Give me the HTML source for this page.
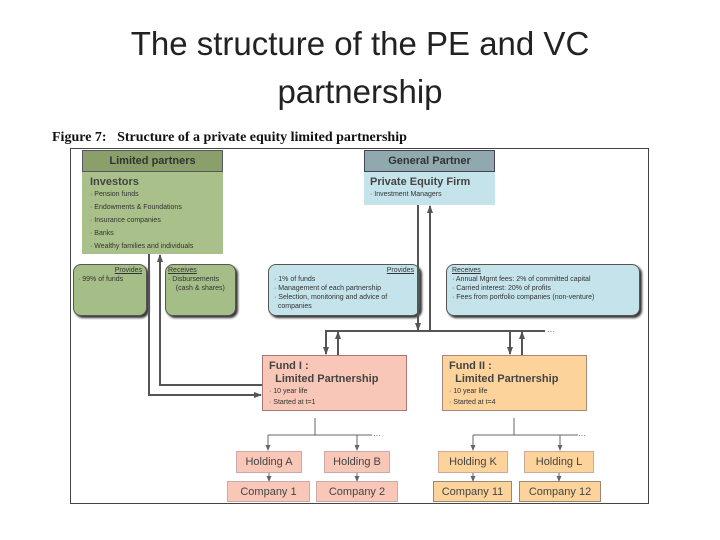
<!DOCTYPE html>
<html><head><style>
body{margin:0;width:720px;height:540px;background:#fff;position:relative;overflow:hidden;font-family:"Liberation Sans",Arial,sans-serif}
.a{position:absolute;box-sizing:border-box}
.t{left:0;width:720px;text-align:center;font-size:33px;color:#222;line-height:48px}
.s{font-size:7px;color:#333;line-height:13px}
.r{border-radius:8px;box-shadow:2px 2px 2px #333;border:1px solid #555}
.h{font-size:11px;color:#444;display:flex;align-items:center;justify-content:center;border:1px solid #333}
</style></head><body>
<div class="a t" style="top:20px">The structure of the PE and VC</div>
<div class="a t" style="top:68px">partnership</div>
<div class="a" style="left:52px;top:130px;font:bold 14px 'Liberation Serif',serif;color:#111">Figure 7:&nbsp;&nbsp; Structure of a private equity limited partnership</div>
<div class="a" style="left:70px;top:148px;width:579px;height:356px;border:1px solid #444"></div>

<div class="a" style="left:82px;top:150px;width:141px;height:22px;background:#8a9f6a;border:1px solid #556;font-weight:bold;font-size:11px;color:#333;text-align:center;line-height:20px">Limited partners</div>
<div class="a" style="left:82px;top:172px;width:141px;height:82px;background:#a9c08a;padding:4px 8px">
<div style="font-weight:bold;font-size:11px;color:#444">Investors</div>
<div class="s">· Pension funds<br>· Endowments &amp; Foundations<br>· Insurance companies<br>· Banks<br>· Wealthy families and individuals</div></div>

<div class="a" style="left:364px;top:150px;width:131px;height:22px;background:#8fa9ae;border:1px solid #445;font-weight:bold;font-size:11px;color:#333;text-align:center;line-height:20px">General Partner</div>
<div class="a" style="left:364px;top:172px;width:131px;height:33px;background:#c5e3ea;padding:4px 6px">
<div style="font-weight:bold;font-size:11px;color:#444">Private Equity Firm</div>
<div class="s">· Investment Managers</div></div>

<div class="a r" style="left:73px;top:264px;width:74px;height:52px;background:#a5bd86;padding:1px 4px"><div class="s" style="text-align:right;text-decoration:underline;line-height:9px">Provides</div><div class="s" style="line-height:9px">· 99% of funds</div></div>
<div class="a r" style="left:165px;top:264px;width:71px;height:52px;background:#a5bd86;padding:1px 2px"><div class="s" style="text-decoration:underline;line-height:9px">Receives</div><div class="s" style="line-height:9px">· Disbursements<br>&nbsp;&nbsp;&nbsp;&nbsp;(cash &amp; shares)</div></div>
<div class="a r" style="left:268px;top:264px;width:152px;height:52px;background:#c5e3ea;padding:1px 5px"><div class="s" style="text-align:right;text-decoration:underline;line-height:9px">Provides</div><div class="s" style="line-height:9px">· 1% of funds<br>· Management of each partnership<br>· Selection, monitoring and advice of<br>&nbsp;&nbsp;companies</div></div>
<div class="a r" style="left:446px;top:264px;width:194px;height:52px;background:#c5e3ea;padding:1px 5px"><div class="s" style="text-decoration:underline;line-height:9px">Receives</div><div class="s" style="line-height:9px">· Annual Mgmt fees: 2% of committed capital<br>· Carried interest: 20% of profits<br>· Fees from portfolio companies (non-venture)</div></div>

<div class="a" style="left:262px;top:355px;width:145px;height:56px;background:#f8c7b8;border:1px solid #a77;padding:4px 6px"><div style="font-weight:bold;font-size:11px;color:#444;line-height:13px">Fund I :<br>&nbsp;&nbsp;Limited Partnership</div><div class="s" style="line-height:11px">· 10 year life<br>· Started at t=1</div></div>
<div class="a" style="left:442px;top:355px;width:145px;height:56px;background:#fcd49b;border:1px solid #a87;padding:4px 6px"><div style="font-weight:bold;font-size:11px;color:#444;line-height:13px">Fund II :<br>&nbsp;&nbsp;Limited Partnership</div><div class="s" style="line-height:11px">· 10 year life<br>· Started at t=4</div></div>

<div class="a h" style="left:236px;top:451px;width:66px;height:22px;background:#f8c7b8;border-color:#caa">Holding A</div>
<div class="a h" style="left:324px;top:451px;width:66px;height:22px;background:#f8c7b8;border-color:#caa">Holding B</div>
<div class="a h" style="left:227px;top:481px;width:83px;height:21px;background:#f8c7b8;border-color:#caa">Company 1</div>
<div class="a h" style="left:316px;top:481px;width:82px;height:21px;background:#f8c7b8;border-color:#caa">Company 2</div>
<div class="a h" style="left:438px;top:451px;width:70px;height:22px;background:#fcd49b;border-color:#ca9">Holding K</div>
<div class="a h" style="left:524px;top:451px;width:70px;height:22px;background:#fcd49b;border-color:#ca9">Holding L</div>
<div class="a h" style="left:433px;top:481px;width:79px;height:21px;background:#fcd49b;border-color:#987">Company 11</div>
<div class="a h" style="left:519px;top:481px;width:82px;height:21px;background:#fcd49b;border-color:#987">Company 12</div>

<svg class="a" style="left:0;top:0" width="720" height="540">
<defs><marker id="m" markerUnits="userSpaceOnUse" markerWidth="8" markerHeight="8" refX="7" refY="4" orient="auto"><path d="M0,1L8,4L0,7z" fill="#555"/></marker>
<marker id="n" markerUnits="userSpaceOnUse" markerWidth="6" markerHeight="6" refX="5" refY="3" orient="auto"><path d="M0,0.5L6,3L0,5.5z" fill="#666"/></marker></defs>
<g stroke="#555" stroke-width="2" fill="none">
<polyline points="149,254 149,395 261,395" marker-end="url(#m)"/>
<polyline points="262,385 160,385 160,255" marker-end="url(#m)"/>
<line x1="418" y1="205" x2="418" y2="330" marker-end="url(#m)"/>
<line x1="430" y1="331" x2="430" y2="206" marker-end="url(#m)"/>
<line x1="325" y1="331" x2="545" y2="331"/>
<line x1="326" y1="331" x2="326" y2="354" marker-end="url(#m)"/>
<line x1="338" y1="355" x2="338" y2="332" marker-end="url(#m)"/>
<line x1="510" y1="331" x2="510" y2="354" marker-end="url(#m)"/>
<line x1="522" y1="355" x2="522" y2="332" marker-end="url(#m)"/>
</g>
<g stroke="#666" stroke-width="1" fill="none">
<line x1="315" y1="418" x2="315" y2="435"/><line x1="268" y1="435" x2="372" y2="435"/>
<line x1="268" y1="435" x2="268" y2="450" marker-end="url(#n)"/><line x1="357" y1="435" x2="357" y2="450" marker-end="url(#n)"/>
<line x1="514" y1="418" x2="514" y2="435"/><line x1="473" y1="435" x2="578" y2="435"/>
<line x1="473" y1="435" x2="473" y2="450" marker-end="url(#n)"/><line x1="560" y1="435" x2="560" y2="450" marker-end="url(#n)"/>
<line x1="269" y1="473" x2="269" y2="481" marker-end="url(#n)"/><line x1="357" y1="473" x2="357" y2="481" marker-end="url(#n)"/>
<line x1="473" y1="473" x2="473" y2="481" marker-end="url(#n)"/><line x1="559" y1="473" x2="559" y2="481" marker-end="url(#n)"/>
</g>
<text x="547" y="334" font-size="8" fill="#555">···</text>
<text x="373" y="438" font-size="8" fill="#555">···</text>
<text x="578" y="438" font-size="8" fill="#555">···</text>
</svg>
</body></html>
